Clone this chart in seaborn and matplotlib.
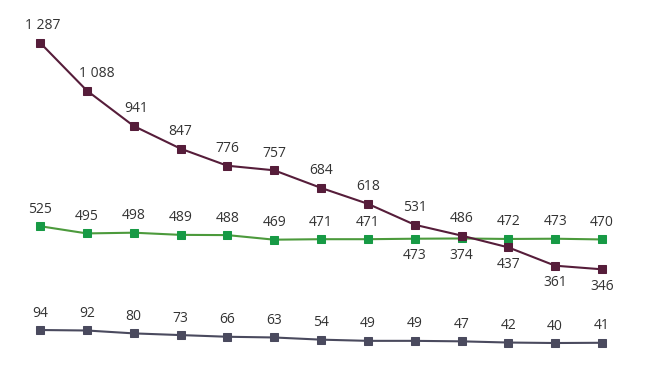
import numpy as np
import pandas as pd
import matplotlib.pyplot as plt
import seaborn as sns

steps = list(range(13))
maroon_vals = [1287, 1088, 941, 847, 776, 757, 684, 618, 531, 486, 437, 361, 346]
green_vals = [525, 495, 498, 489, 488, 469, 471, 471, 473, 474, 472, 473, 470]
# the source prints "374" for the 10th green point although it sits at ~474
green_text = ["525", "495", "498", "489", "488", "469", "471", "471", "473", "374", "472", "473", "470"]
gray_vals = [94, 92, 80, 73, 66, 63, 54, 49, 49, 47, 42, 40, 41]

maroon_below = [False] * 10 + [True, True, True]
green_below = [False] * 8 + [True, True, False, False, False]

sns.set_theme(style="white")
plt.rcParams["font.family"] = ["Open Sans", "DejaVu Sans"]

fig = plt.figure(figsize=(6.54, 3.70), dpi=100)
ax = fig.add_axes([0, 0, 1, 1])

series = [
    (green_vals, "#4c9a3c", "#179a45", green_text, green_below),
    (gray_vals, "#4a4a5e", "#4a4a5e", [str(v) for v in gray_vals], [False] * 13),
    (maroon_vals, "#561d3a", "#561d3a", None, maroon_below),
]

for vals, lc, mc, texts, below in series:
    df = pd.DataFrame({"step": steps, "value": vals})
    sns.lineplot(data=df, x="step", y="value", ax=ax, color=lc, linewidth=1.5,
                 marker="s", markersize=6, markerfacecolor=mc, markeredgecolor=mc)
    shift_x = [0] * 13
    if texts is None:
        texts = [f"{v:,}".replace(",", " ") for v in vals]
        shift_x = [3, 10, 3, 0, 0, 0, 0, 0, 0, 0, 0, 0, 0]
    for x, v, t, b, dx in zip(steps, vals, texts, below, shift_x):
        ax.annotate(t, (x, v), xytext=(dx, -17 if b else 17), textcoords="offset pixels",
                    ha="center", va="center", fontsize=10, color="#333333")

ax.set_xlim(-0.854, 13.11)
ax.set_ylim(-72, 1464)
ax.axis("off")

fig.savefig("out.png", dpi=100, facecolor="white")
